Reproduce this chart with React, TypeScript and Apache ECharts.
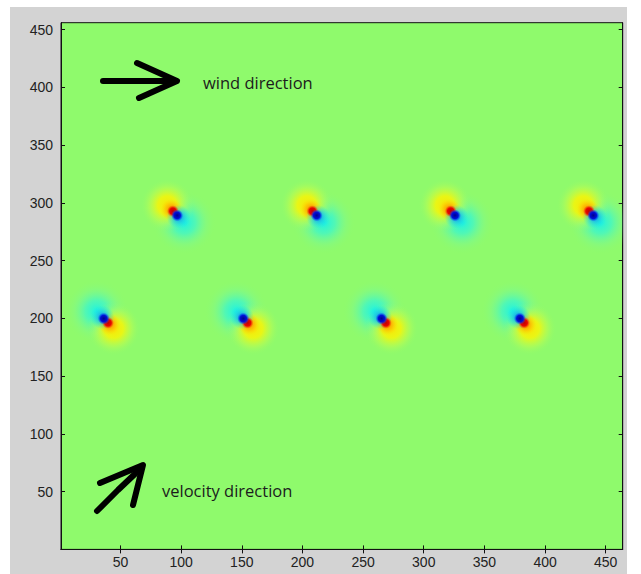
import React, { useEffect, useRef } from "react";
import * as echarts from "echarts";

// Axis extents and tick positions
const X_RANGE = [1, 464];
const Y_RANGE = [0, 456];
const X_TICKS = [50, 100, 150, 200, 250, 300, 350, 400, 450];
const Y_TICKS = [50, 100, 150, 200, 250, 300, 350, 400, 450];

// Vortex pairs: centre positions and polarity (+1: positive lobe to the upper left)
const dipoleX = [95, 210, 324, 438, 38, 153, 267, 381];
const dipoleY = [291, 291, 291, 291, 198, 198, 198, 198];
const dipolePolarity = [1, 1, 1, 1, -1, -1, -1, -1];

const FIELD_BG = "rgb(143,250,108)";
const FIELD_BG_CLEAR = "rgba(143,250,108,0)";

function radial(stops: [number, string][]) {
  return {
    type: "radial",
    x: 0.5,
    y: 0.5,
    r: 0.5,
    colorStops: stops.map(([offset, color]) => ({ offset, color })),
  };
}

function blob(cx: number, cy: number, r: number, stops: [number, string][]) {
  return {
    type: "circle",
    shape: { cx, cy, r },
    style: { fill: radial(stops) },
  };
}

export default function App() {
  const ref = useRef<HTMLDivElement>(null);

  useEffect(() => {
    if (!ref.current) return;
    const chart = echarts.init(ref.current, null, { renderer: "svg" });

    const data = dipoleX.map((x, i) => [x, dipoleY[i], dipolePolarity[i]]);

    const tickLabel = {
      fontFamily: "Liberation Sans",
      fontSize: 14,
      color: "#222",
    };

    const axisLine = { show: true, lineStyle: { color: "#111", width: 1 } };
    const axisTick = { inside: true, length: 4, lineStyle: { color: "#111" } };

    const renderItem = (params: any, api: any) => {
      const [cx, cy] = api.coord([api.value(0), api.value(1)]);
      const p = api.value(2);
      const k = Math.SQRT1_2;
      // pixel direction towards the positive lobe
      const dx = -p * k;
      const dy = -p * k;
      return {
        type: "group",
        children: [
          // broad negative lobe
          blob(cx - dx * 13, cy - dy * 13, 32, [
            [0, "rgba(0,240,255,0.8)"],
            [0.35, "rgba(30,245,240,0.55)"],
            [0.7, "rgba(100,250,180,0.2)"],
            [1, FIELD_BG_CLEAR],
          ]),
          // broad positive lobe
          blob(cx + dx * 11, cy + dy * 11, 27, [
            [0, "rgba(255,228,0,0.95)"],
            [0.35, "rgba(255,245,0,0.8)"],
            [0.7, "rgba(215,255,60,0.3)"],
            [1, FIELD_BG_CLEAR],
          ]),
          blob(cx + dx * 5, cy + dy * 5, 11, [
            [0, "rgba(255,110,0,0.95)"],
            [0.5, "rgba(255,170,0,0.6)"],
            [1, "rgba(255,220,0,0)"],
          ]),
          blob(cx - dx * 5, cy - dy * 5, 12, [
            [0, "rgba(0,110,255,0.9)"],
            [0.5, "rgba(0,190,255,0.55)"],
            [1, "rgba(0,235,255,0)"],
          ]),
          blob(cx + dx * 3, cy + dy * 3, 6, [
            [0, "#c00000"],
            [0.55, "#e80800"],
            [1, "rgba(255,90,0,0)"],
          ]),
          blob(cx - dx * 3, cy - dy * 3, 6, [
            [0, "#000090"],
            [0.55, "#0010d8"],
            [1, "rgba(0,90,255,0)"],
          ]),
        ],
      };
    };

    const stroke = {
      stroke: "#000",
      lineWidth: 6,
      lineCap: "round",
      lineJoin: "round",
      fill: null,
    };

    const note = {
      fontFamily: "Open Sans",
      fontSize: 16.5,
      fill: "#1c1c1c",
      verticalAlign: "middle",
    };

    chart.setOption({
      animation: false,
      backgroundColor: "transparent",
      grid: {
        left: 61,
        right: 18.3,
        top: 22.7,
        bottom: 24.6,
        show: true,
        backgroundColor: FIELD_BG,
        borderColor: "#111",
        borderWidth: 1,
      },
      xAxis: [
        {
          type: "value",
          min: X_RANGE[0],
          max: X_RANGE[1],
          axisLine,
          axisTick: { ...axisTick, customValues: X_TICKS },
          axisLabel: { ...tickLabel, margin: 6, customValues: X_TICKS },
          splitLine: { show: false },
        },
        {
          type: "value",
          position: "top",
          min: X_RANGE[0],
          max: X_RANGE[1],
          axisLine,
          axisTick: { ...axisTick, customValues: X_TICKS },
          axisLabel: { show: false },
          splitLine: { show: false },
        },
      ],
      yAxis: [
        {
          type: "value",
          min: Y_RANGE[0],
          max: Y_RANGE[1],
          axisLine,
          axisTick: { ...axisTick, customValues: Y_TICKS },
          axisLabel: { ...tickLabel, margin: 8, customValues: Y_TICKS },
          splitLine: { show: false },
        },
        {
          type: "value",
          position: "right",
          min: Y_RANGE[0],
          max: Y_RANGE[1],
          axisLine,
          axisTick: { ...axisTick, customValues: Y_TICKS },
          axisLabel: { show: false },
          splitLine: { show: false },
        },
      ],
      series: [
        {
          type: "custom",
          xAxisIndex: 0,
          yAxisIndex: 0,
          clip: true,
          renderItem,
          data,
        },
      ],
      graphic: [
        {
          type: "polyline",
          z: 100,
          shape: { points: [[103, 81], [174, 81]] },
          style: stroke,
        },
        {
          type: "polyline",
          z: 100,
          shape: { points: [[137, 63], [177, 81], [139, 98]] },
          style: stroke,
        },
        {
          type: "polyline",
          z: 100,
          shape: { points: [[97, 511], [118, 490], [137, 472]] },
          style: stroke,
        },
        {
          type: "polyline",
          z: 100,
          shape: { points: [[100, 483], [143, 465], [133, 505]] },
          style: stroke,
        },
        {
          type: "text",
          z: 100,
          x: 203,
          y: 82,
          style: { ...note, text: "wind direction" },
        },
        {
          type: "text",
          z: 100,
          x: 162,
          y: 490,
          style: { ...note, text: "velocity direction" },
        },
      ],
    });

    return () => chart.dispose();
  }, []);

  return (
    <div
      style={{
        position: "fixed",
        left: 0,
        top: 0,
        width: 641,
        height: 574,
        background: "#fff",
      }}
    >
      <div
        style={{
          position: "absolute",
          left: 10,
          top: 7,
          width: 617,
          height: 567,
          background: "#d3d3d3",
        }}
      />
      <div
        ref={ref}
        style={{ position: "absolute", left: 0, top: 0, width: 641, height: 574 }}
      />
    </div>
  );
}
